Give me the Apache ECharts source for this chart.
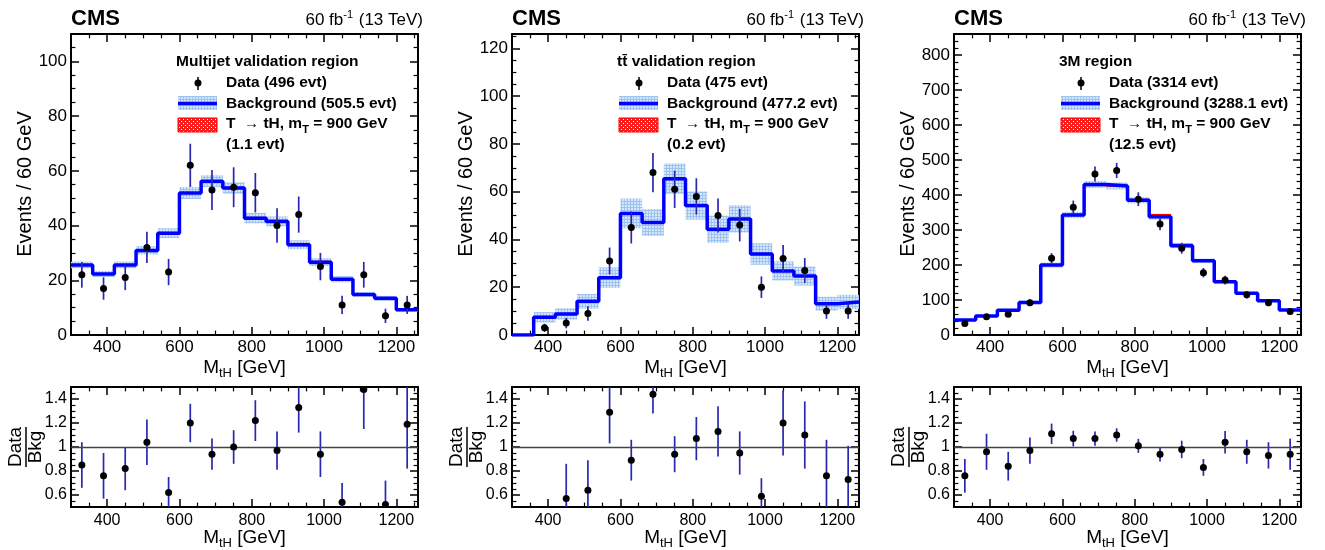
<!DOCTYPE html>
<html>
<head>
<meta charset="utf-8">
<script src="https://cdn.jsdelivr.net/npm/echarts@6/dist/echarts.min.js"></script>
<style>
  html, body { margin: 0; background: #fff; }
  #chart { width: 1325px; height: 550px; }
</style>
</head>
<body>
<div id="chart"></div>
<script>
// bins of M_tH, 60 GeV wide, 300 - 1260 GeV
const binCenters = [330, 390, 450, 510, 570, 630, 690, 750, 810, 870, 930, 990, 1050, 1110, 1170, 1230];
const binWidth = 60;
const xTicks = [400, 600, 800, 1000, 1200];

// multijet validation region
const mjBkg = [25.6, 22.3, 25.6, 30.9, 37.2, 51.9, 56.2, 53.7, 42.7, 41.5, 33.0, 26.6, 20.4, 14.8, 13.4, 9.2];
const mjBkgUnc = [1.2, 1.1, 1.2, 1.5, 1.8, 2.2, 2.2, 2.1, 1.9, 1.8, 1.6, 1.4, 1.1, 0.9, 0.9, 0.7];
const mjSig = [0, 0, 0, 0, 0, 0, 0, 0.05, 0.1, 0.25, 0.3, 0.2, 0.1, 0.05, 0.03, 0.02];
const mjData = [22, 17, 21, 32, 23, 62, 53, 54, 52, 40, 44, 25, 11, 22, 7, 11];
const mjDataErr = [4.7, 4.1, 4.6, 5.7, 4.8, 7.9, 7.3, 7.3, 7.2, 6.3, 6.6, 5.0, 3.3, 4.7, 2.6, 3.3];
const mjRatio = [0.85, 0.76, 0.82, 1.04, 0.62, 1.20, 0.94, 1.00, 1.22, 0.97, 1.33, 0.94, 0.54, 1.48, 0.52, 1.19];
const mjRatioErr = [0.19, 0.19, 0.18, 0.19, 0.13, 0.16, 0.13, 0.14, 0.17, 0.16, 0.21, 0.19, 0.16, 0.33, 0.20, 0.37];

// ttbar validation region
const ttBkg = [0, 7.4, 8.8, 14.1, 24.0, 50.9, 47.1, 65.4, 54.2, 44.3, 48.6, 33.9, 26.8, 24.7, 13.1, 13.8];
const ttBkgUnc = [0, 2.2, 2.4, 3.1, 4.3, 6.2, 5.6, 6.4, 5.9, 5.7, 5.7, 4.5, 4.0, 4.0, 2.9, 3.0];
const ttSig = [0, 0, 0, 0, 0, 0, 0, 0, 0.02, 0.05, 0.06, 0.04, 0.02, 0.01, 0, 0];
const ttData = [null, 3, 5, 9, 31, 45, 68, 61, 58, 50, 46, 20, 32, 27, 10, 10];
const ttDataErr = [null, 1.7, 2.2, 3.0, 5.6, 6.7, 8.2, 7.8, 7.6, 7.1, 6.8, 4.5, 5.7, 5.2, 3.2, 3.2];
const ttRatio = [null, null, 0.57, 0.64, 1.29, 0.89, 1.44, 0.94, 1.07, 1.13, 0.95, 0.59, 1.20, 1.10, 0.76, 0.73];
const ttRatioErr = [null, null, 0.29, 0.25, 0.26, 0.17, 0.16, 0.15, 0.18, 0.21, 0.18, 0.15, 0.27, 0.28, 0.30, 0.28];

// 3M region
const m3Bkg = [43, 54, 71, 93, 200, 343, 430, 426, 385, 338, 255, 212, 152, 119, 98, 71.5];
const m3BkgUnc = [3, 3.5, 4, 5, 7, 9, 10, 10, 9, 8, 7, 6, 5, 4, 4, 3];
const m3Sig = [0, 0, 0, 0, 0, 0.1, 0.2, 0.5, 1.2, 5.0, 3.0, 1.4, 0.6, 0.3, 0.1, 0.1];
const m3Data = [33, 52, 59, 92, 219, 365, 460, 470, 388, 317, 248, 178, 157, 115, 92, 67];
const m3DataErr = [5.7, 7.2, 7.7, 9.6, 14.8, 19.1, 21.4, 21.7, 19.7, 17.8, 15.7, 13.3, 12.5, 10.7, 9.6, 8.2];
const m3Ratio = [0.76, 0.96, 0.84, 0.97, 1.11, 1.07, 1.07, 1.10, 1.01, 0.94, 0.98, 0.83, 1.04, 0.96, 0.93, 0.94];
const m3RatioErr = [0.14, 0.15, 0.12, 0.11, 0.085, 0.065, 0.06, 0.056, 0.058, 0.06, 0.073, 0.07, 0.094, 0.10, 0.11, 0.13];

const panels = [
  { left: 71, yMax: 110, yInt: 20, yMinor: 4, region: 'Multijet validation region', nData: '496', nBkg: '505.5', nSig: '1.1',
    bkg: mjBkg, unc: mjBkgUnc, sig: mjSig, data: mjData, err: mjDataErr, ratio: mjRatio, ratioErr: mjRatioErr },
  { left: 512, yMax: 126, yInt: 20, yMinor: 4, region: 'tt\u0304 validation region', nData: '475', nBkg: '477.2', nSig: '0.2',
    bkg: ttBkg, unc: ttBkgUnc, sig: ttSig, data: ttData, err: ttDataErr, ratio: ttRatio, ratioErr: ttRatioErr },
  { left: 954, yMax: 860, yInt: 100, yMinor: 5, region: '3M region', nData: '3314', nBkg: '3288.1', nSig: '12.5',
    bkg: m3Bkg, unc: m3BkgUnc, sig: m3Sig, data: m3Data, err: m3DataErr, ratio: m3Ratio, ratioErr: m3RatioErr }
];

const FONT = '"Liberation Sans", Arial, Helvetica, sans-serif';
const frameW = 347, mainTop = 34, mainH = 301, ratioTop = 387, ratioH = 120;
const errColor = '#2828b0';

function pattern(size, bg, fg, cells) {
  const c = document.createElement('canvas');
  c.width = size; c.height = size;
  const g = c.getContext('2d');
  g.fillStyle = bg; g.fillRect(0, 0, size, size);
  g.fillStyle = fg;
  cells.forEach(p => g.fillRect(p[0], p[1], 1, 1));
  return { image: c, repeat: 'repeat' };
}
const bandFill = pattern(3, '#d6e6fa', '#9fc3f1', [[0, 0], [1, 0], [2, 0], [0, 1], [0, 2]]);
const sigFill = pattern(4, '#ff1a1a', '#ffffff', [[1, 1], [3, 3]]);

const chart = echarts.init(document.getElementById('chart'));

const grids = [], xAxes = [], yAxes = [], series = [], graphic = [];

function axisCommon(major, minorSplit) {
  return {
    axisLine: { show: true, onZero: false, lineStyle: { color: '#000', width: 2 } },
    axisTick: { show: true, inside: true, length: major, lineStyle: { color: '#000', width: 1.5 } },
    minorTick: { show: true, splitNumber: minorSplit, length: major * 0.55, lineStyle: { color: '#000', width: 1.2 } },
    splitLine: { show: false },
    minorSplitLine: { show: false }
  };
}

function addGrid(p, top, height, yOpt, labelSize, isRatio) {
  const g = grids.length;
  grids.push({ left: p.left, top: top, width: frameW, height: height });
  const xFmt = v => (xTicks.indexOf(v) >= 0 ? String(v) : '');
  const xBase = Object.assign({ type: 'value', gridIndex: g, min: 300, max: 1260 }, axisCommon(8, 4));
  xAxes.push(Object.assign({}, xBase, { position: 'bottom',
    axisLabel: { color: '#000', fontFamily: FONT, fontSize: labelSize, margin: isRatio ? 6 : 4, formatter: xFmt } }));
  xAxes.push(Object.assign({}, xBase, { position: 'top', axisLabel: { show: false } }));
  const yBase = Object.assign({ type: 'value', gridIndex: g }, yOpt.range, axisCommon(8, yOpt.minor));
  yAxes.push(Object.assign({}, yBase, { position: 'left',
    axisLabel: { color: '#000', fontFamily: FONT, fontSize: labelSize, margin: 4, formatter: yOpt.fmt } }));
  yAxes.push(Object.assign({}, yBase, { position: 'right', axisLabel: { show: false } }));
  return { x: 2 * g, y: 2 * g };
}

function errorBarSeries(ax, vals, errs, z) {
  return {
    type: 'custom', xAxisIndex: ax.x, yAxisIndex: ax.y, z: z,
    data: binCenters.map((c, i) => [c, vals[i], errs[i]]).filter(d => d[1] !== null),
    renderItem(params, api) {
      const x = api.value(0), v = api.value(1), e = api.value(2);
      const cs = params.coordSys;
      const a = api.coord([x, v + e]), b = api.coord([x, v - e]);
      const y1 = Math.max(a[1], cs.y), y2 = Math.min(b[1], cs.y + cs.height);
      if (y2 <= y1) return;
      return { type: 'line', shape: { x1: a[0], y1: y1, x2: a[0], y2: y2 },
        style: { stroke: errColor, lineWidth: 1.7 } };
    }
  };
}

panels.forEach(p => {
  const L = p.left;
  // main pad
  const ax = addGrid(p, mainTop, mainH, {
    range: { min: 0, max: p.yMax, interval: p.yInt }, minor: p.yMinor,
    fmt: v => (v % p.yInt === 0 ? String(v) : '')
  }, 17, false);

  series.push({
    type: 'custom', xAxisIndex: ax.x, yAxisIndex: ax.y, z: 1,
    data: binCenters.map((c, i) => [c, p.bkg[i], p.unc[i]]),
    renderItem(params, api) {
      const x = api.value(0), v = api.value(1), u = api.value(2);
      if (!u) return;
      const a = api.coord([x - binWidth / 2, v + u]), b = api.coord([x + binWidth / 2, v - u]);
      const r = echarts.graphic.clipRectByRect({ x: a[0], y: a[1], width: b[0] - a[0], height: b[1] - a[1] }, params.coordSys);
      if (!r) return;
      return { type: 'rect', shape: r, style: { fill: bandFill } };
    }
  });
  series.push({
    type: 'custom', xAxisIndex: ax.x, yAxisIndex: ax.y, z: 2,
    data: binCenters.map((c, i) => [c, p.bkg[i], p.sig[i]]),
    renderItem(params, api) {
      const x = api.value(0), v = api.value(1), s = api.value(2);
      if (!s) return;
      const a = api.coord([x - binWidth / 2, v + s]), b = api.coord([x + binWidth / 2, v]);
      return { type: 'group', children: [
        { type: 'rect', shape: { x: a[0], y: a[1], width: b[0] - a[0], height: b[1] - a[1] }, style: { fill: sigFill } },
        { type: 'line', shape: { x1: a[0], y1: a[1], x2: b[0], y2: a[1] }, style: { stroke: '#ff0000', lineWidth: 2 } }
      ] };
    }
  });
  const edges = binCenters.map((c, i) => [c - binWidth / 2, p.bkg[i]]);
  edges.push([binCenters[binCenters.length - 1] + binWidth / 2, p.bkg[p.bkg.length - 1]]);
  series.push({
    type: 'line', xAxisIndex: ax.x, yAxisIndex: ax.y, z: 3, step: 'end', symbol: 'none', silent: true,
    data: edges, lineStyle: { color: '#0000ff', width: 3.5 }
  });
  series.push(errorBarSeries(ax, p.data, p.err, 4));
  series.push({
    type: 'scatter', xAxisIndex: ax.x, yAxisIndex: ax.y, z: 5, symbol: 'circle', symbolSize: 7,
    itemStyle: { color: '#000', opacity: 1 },
    data: binCenters.map((c, i) => [c, p.data[i]]).filter(d => d[1] !== null)
  });

  // ratio pad
  const rx = addGrid(p, ratioTop, ratioH, {
    range: { min: 0.5, max: 1.5 }, minor: 4,
    fmt: v => { const r = Math.round(v * 100); return r % 20 === 0 ? String(+v.toFixed(1)) : ''; }
  }, 16, true);
  series.push(errorBarSeries(rx, p.ratio, p.ratioErr, 4));
  series.push({
    type: 'scatter', xAxisIndex: rx.x, yAxisIndex: rx.y, z: 5, symbol: 'circle', symbolSize: 7,
    itemStyle: { color: '#000', opacity: 1 },
    data: binCenters.map((c, i) => [c, p.ratio[i]]).filter(d => d[1] !== null),
    markLine: { silent: true, symbol: 'none', label: { show: false },
      lineStyle: { color: '#444', width: 1.3, type: 'solid' }, data: [{ yAxis: 1 }] }
  });

  // texts
  graphic.push({ type: 'text', x: L, y: 19, style: { text: 'CMS', font: 'bold 22px ' + FONT, fill: '#000', verticalAlign: 'middle' } });
  graphic.push({ type: 'text', x: L + 352, y: 20, style: {
    text: '{n|60 fb}{s|-1}{n| (13 TeV)}', align: 'right', verticalAlign: 'middle',
    rich: { n: { font: '17px ' + FONT, fill: '#000' }, s: { font: '11px ' + FONT, fill: '#000', padding: [0, 1, 10, 0] } } } });
  graphic.push({ type: 'text', x: L - 46, y: 184, rotation: Math.PI / 2, style: {
    text: 'Events / 60 GeV', font: '20px ' + FONT, fill: '#000', align: 'center', verticalAlign: 'middle' } });
  const mthRich = { m: { font: '19px ' + FONT, fill: '#000' }, s: { font: '13px ' + FONT, fill: '#000', padding: [10, 0, 0, 0] } };
  graphic.push({ type: 'text', x: L + frameW / 2, y: 368, style: {
    text: '{m|M}{s|tH}{m| [GeV]}', align: 'center', verticalAlign: 'middle', rich: mthRich } });
  graphic.push({ type: 'text', x: L + frameW / 2, y: 538, style: {
    text: '{m|M}{s|tH}{m| [GeV]}', align: 'center', verticalAlign: 'middle', rich: mthRich } });
  graphic.push({ type: 'group', x: L - 45, y: 447, rotation: Math.PI / 2, children: [
    { type: 'text', x: 0, y: -10, style: { text: 'Data', font: '19px ' + FONT, fill: '#000', align: 'center', verticalAlign: 'middle' } },
    { type: 'line', shape: { x1: -20, y1: 0, x2: 20, y2: 0 }, style: { stroke: '#000', lineWidth: 1.5 } },
    { type: 'text', x: 0, y: 10, style: { text: 'Bkg', font: '19px ' + FONT, fill: '#000', align: 'center', verticalAlign: 'middle' } }
  ] });

  // legend
  const bold = 'bold 15.5px ' + FONT;
  graphic.push({ type: 'text', x: L + 105, y: 62, style: { text: p.region, font: bold, fill: '#000', verticalAlign: 'middle' } });
  graphic.push({ type: 'line', shape: { x1: L + 127, y1: 77, x2: L + 127, y2: 90 }, style: { stroke: '#000', lineWidth: 1.5 } });
  graphic.push({ type: 'circle', shape: { cx: L + 127, cy: 83, r: 3.5 }, style: { fill: '#000' } });
  graphic.push({ type: 'text', x: L + 155, y: 83, style: { text: 'Data (' + p.nData + ' evt)', font: bold, fill: '#000', verticalAlign: 'middle' } });
  graphic.push({ type: 'rect', shape: { x: L + 107, y: 96, width: 39, height: 14 }, style: { fill: bandFill } });
  graphic.push({ type: 'line', shape: { x1: L + 107, y1: 103.5, x2: L + 146, y2: 103.5 }, style: { stroke: '#0000ff', lineWidth: 3.5 } });
  graphic.push({ type: 'text', x: L + 155, y: 104, style: { text: 'Background (' + p.nBkg + ' evt)', font: bold, fill: '#000', verticalAlign: 'middle' } });
  graphic.push({ type: 'rect', shape: { x: L + 107, y: 118, width: 39, height: 14 }, style: { fill: sigFill, stroke: '#ff0000', lineWidth: 1 } });
  graphic.push({ type: 'text', x: L + 155, y: 124, style: {
    text: '{b|T  }{a|\u2192}{b| tH, m}{s|T}{b| = 900 GeV}', verticalAlign: 'middle',
    rich: { b: { font: bold, fill: '#000' }, a: { font: '15px ' + FONT, fill: '#000' },
      s: { font: 'bold 11px ' + FONT, fill: '#000', padding: [12, 0, 0, 0] } } } });
  graphic.push({ type: 'text', x: L + 155, y: 145, style: { text: '(' + p.nSig + ' evt)', font: bold, fill: '#000', verticalAlign: 'middle' } });
});

chart.setOption({
  animation: false,
  backgroundColor: '#fff',
  textStyle: { fontFamily: FONT },
  grid: grids,
  xAxis: xAxes,
  yAxis: yAxes,
  series: series,
  graphic: graphic
});
</script>
</body>
</html>
